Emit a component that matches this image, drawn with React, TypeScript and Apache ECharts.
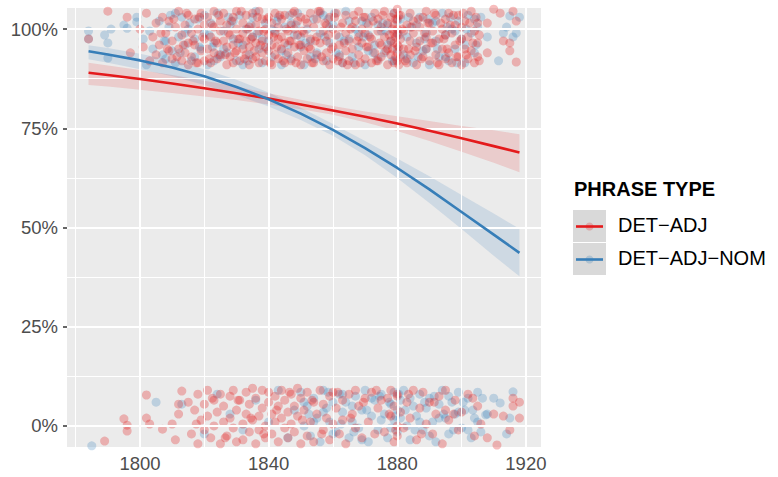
import React, { useEffect, useRef } from "react";
import * as echarts from "echarts";

// ---- fitted curves (percent) ----
const fitYears = [1784, 1790, 1800, 1810, 1820, 1830, 1840, 1850, 1860, 1870, 1880, 1890, 1900, 1910, 1918];
const detAdjFit = [89.0, 88.4, 87.4, 86.3, 85.1, 83.8, 82.5, 81.0, 79.5, 77.9, 76.2, 74.4, 72.5, 70.5, 68.9];
const detAdjLower = [85.9, 85.5, 84.7, 83.9, 83.0, 82.1, 81.0, 79.8, 78.4, 76.5, 74.3, 71.8, 69.1, 66.3, 63.9];
const detAdjUpper = [91.5, 90.8, 89.7, 88.4, 87.0, 85.5, 83.8, 82.2, 80.6, 79.2, 78.0, 76.8, 75.6, 74.5, 73.5];
const detAdjNomFit = [94.4, 93.6, 92.1, 90.3, 88.1, 85.4, 82.3, 78.7, 74.6, 70.0, 65.0, 59.6, 53.9, 48.2, 43.6];
const detAdjNomLower = [92.4, 91.5, 89.9, 88.1, 85.9, 83.4, 80.5, 77.1, 73.1, 68.2, 62.5, 56.2, 49.6, 42.9, 37.7];
const detAdjNomUpper = [95.9, 95.2, 93.8, 92.1, 89.9, 87.2, 84.0, 80.2, 76.1, 71.8, 67.4, 62.9, 58.2, 53.5, 49.7];

// ---- jittered observations [year, percent] ----
const detAdjTop = [
  [1784,97.5],[1790,104.5],[1796,103],[1797,94],
  [1800,100],[1801,95.5],[1802,104],[1803,92],[1804,98],[1805,101.5],[1805,93.5],
  [1806,96],[1807,103],[1807,91.5],[1808,99],[1809,94.5],[1809,102],[1810,97],[1810,92.5],
  [1811,100.5],[1812,95],[1812,104.5],[1813,92],[1813,98.5],[1814,101],[1814,94],[1815,96.5],[1815,103.5],[1815,91],
  [1816,99],[1816,93],[1817,102.5],[1817,96],[1818,91.5],[1818,100],[1819,94.5],[1819,104],[1820,97.5],[1820,92],[1820,101],
  [1821,95],[1821,103],[1822,98],[1822,91.5],[1823,100.5],[1823,94],[1823,104.5],[1824,96.5],[1824,92.5],[1825,99.5],[1825,102],[1825,93.5],
  [1826,97],[1826,104],[1827,91],[1827,95.5],[1827,101],[1828,98.5],[1828,93],[1829,103],[1829,96],[1829,91.5],[1830,100],[1830,94.5],[1830,104.5],
  [1831,97.5],[1831,92],[1832,101.5],[1832,95],[1832,99],[1833,103.5],[1833,93.5],[1833,97],[1834,91],[1834,100.5],[1834,95.5],[1835,104],[1835,98],[1835,92.5],
  [1836,96.5],[1836,101],[1836,93],[1837,99.5],[1837,104.5],[1837,91.5],[1838,97],[1838,94],[1838,102.5],[1839,95.5],[1839,100],[1839,92],[1840,98.5],[1840,103],[1840,94.5],
  [1841,96],[1841,101.5],[1841,91],[1842,99],[1842,93.5],[1842,104],[1843,97.5],[1843,92.5],[1843,100.5],[1844,95],[1844,102.5],[1844,98],[1845,91.5],[1845,96.5],[1845,103.5],
  [1846,99.5],[1846,94],[1847,101],[1847,92],[1847,97],[1848,104.5],[1848,95.5],[1848,100],[1849,93],[1849,98.5],[1849,102],[1850,91],[1850,96],[1850,103],
  [1851,99],[1851,94.5],[1852,101.5],[1852,92.5],[1853,97.5],[1853,104],[1853,95],[1854,100.5],[1854,91.5],[1855,98],[1855,93.5],[1855,102.5],
  [1856,96.5],[1856,104.5],[1857,92],[1857,99.5],[1858,94],[1858,101],[1858,97],[1859,91],[1859,103],[1860,95.5],[1860,100],[1860,92.5],
  [1861,98.5],[1861,104],[1862,93],[1862,96],[1863,101.5],[1863,91.5],[1864,99],[1864,94.5],[1864,103.5],[1865,97],[1865,92],
  [1866,100.5],[1866,95],[1867,102],[1867,91],[1868,98],[1868,93.5],[1868,104.5],[1869,96.5],[1869,100],[1870,92.5],[1870,99],[1870,103],
  [1871,95.5],[1871,101],[1872,91.5],[1872,97.5],[1873,104],[1873,94],[1874,99.5],[1874,92],[1874,102.5],[1875,96],[1875,100.5],[1875,93],
  [1876,98],[1876,104.5],[1877,91],[1877,95],[1877,101.5],[1878,97],[1878,103],[1878,93.5],[1879,99],[1879,91.5],[1879,96.5],[1879,104],[1879,101],
  [1880,94],[1880,98.5],[1880,92],[1880,102.5],[1880,96],[1880,100],[1880,105],[1881,93],[1881,97.5],[1881,103.5],
  [1882,99.5],[1882,95],[1883,101],[1883,91.5],[1884,97],[1884,104],[1884,93.5],[1885,99],[1885,102],
  [1886,95.5],[1886,91],[1887,100.5],[1887,97],[1888,103],[1888,93],[1889,98],[1889,104.5],[1889,95],[1890,92],[1890,101.5],
  [1891,96.5],[1891,99.5],[1892,93.5],[1892,103.5],[1893,91],[1893,97.5],[1894,100],[1894,95],[1895,102.5],[1895,92.5],[1895,98.5],
  [1896,94],[1896,104],[1897,99],[1897,91.5],[1898,96],[1898,101],[1899,93],[1899,103.5],[1900,97.5],[1900,91],[1900,100.5],
  [1901,95],[1901,102],[1902,92.5],[1902,98],[1903,104.5],[1903,94.5],[1904,99.5],[1904,91.5],[1905,96.5],[1905,101.5],[1905,93],
  [1908,101.5],[1908,94],[1910,105],[1912,104],[1913,97],[1915,96.5],[1915,94.5],[1916,104.5],[1917,91.7],[1917,102],
];
const detAdjTopMore = [
  [1806.5,99],[1808.5,95],[1810.5,102.5],[1811.5,93],[1813.5,96],[1814.5,104],[1816.5,97],[1817.5,91.5],[1818.5,103],[1819.5,98],
  [1821.5,92.5],[1822.5,101],[1823.5,97],[1824.5,103.5],[1826.5,93.5],[1827.5,99],[1828.5,102],[1829.5,94],[1830.5,97.5],[1831.5,104.5],
  [1832.5,92.5],[1833.5,100],[1834.5,97.5],[1835.5,94.5],[1836.5,103],[1837.5,96],[1838.5,99.5],[1839.5,102.5],[1840.5,91.5],[1841.5,98],
  [1842.5,95.5],[1843.5,103.5],[1844.5,92],[1845.5,100],[1846.5,97],[1847.5,104],[1848.5,91.5],[1849.5,96],[1850.5,99.5],[1851.5,102.5],
  [1852.5,95.5],[1853.5,91.5],[1854.5,97],[1855.5,104.5],[1856.5,93],[1857.5,101.5],[1858.5,98.5],[1859.5,95],[1860.5,103],[1861.5,92],
  [1862.5,100.5],[1863.5,96.5],[1864.5,91],[1865.5,100],[1866.5,103.5],[1867.5,97],[1868.5,91.5],[1869.5,103],[1870.5,95.5],[1871.5,98],
  [1872.5,102],[1873.5,92],[1874.5,96.5],[1875.5,103.5],[1876.5,94.5],[1877.5,98.5],[1878.5,100],[1878.5,95],[1879.5,93],[1879.5,98],
  [1880.5,103.5],[1880.5,95.5],[1880.5,91],[1879.5,102.5],[1881.5,100],[1882.5,92],[1883.5,95],[1884.5,100.5],[1885.5,94.5],[1886.5,102.5],
  [1887.5,92.5],[1888.5,99],[1889.5,101.5],[1890.5,96.5],[1891.5,104],[1892.5,91.5],[1893.5,101.5],[1894.5,97.5],[1895.5,95],[1896.5,101],
  [1897.5,103.5],[1898.5,93],[1899.5,97],[1900.5,104],[1901.5,93.5],[1902.5,101.5],[1903.5,96.5],[1904.5,103],[1905.5,98.5],[1905.5,92],
];
const detAdjBottom = [
  [1789,-3.8],[1795,1.8],[1796,0.2],[1796,-1.3],[1802,7.8],[1802,2],[1803,0.5],[1807,-0.8],[1810,0.5],[1811,-3.5],[1812,3],[1813,8.8],[1812,5.5],
  [1815,6],[1816,-2],[1817,4],[1818,8],[1818,-4.5],[1819,1.5],[1820,5.5],[1820,-1],
  [1821,9],[1821,2.5],[1822,-3],[1823,6.5],[1823,0],[1824,3.5],[1825,-4.5],[1825,8],
  [1826,1],[1826,5],[1827,-2.5],[1828,7.5],[1828,2],[1829,-0.5],[1829,9],[1830,4],[1830,-4],
  [1831,6.5],[1832,0.5],[1832,-3.5],[1833,8.5],[1833,3],[1834,-1.5],[1834,5.5],[1835,1.5],[1835,9.5],
  [1836,-4.5],[1836,7],[1837,2.5],[1837,-1],[1838,9],[1838,4.5],[1839,0],[1839,-3],[1840,6],[1840,8.5],
  [1841,3],[1841,-2],[1842,7.5],[1842,1],[1843,-4],[1843,5],[1844,9],[1844,2],[1845,-0.5],[1845,6.5],
  [1846,3.5],[1846,-3],[1847,8],[1847,0.5],[1848,5],[1848,-1.5],[1849,9.5],[1849,2.5],[1850,-4.5],[1850,7],
  [1851,4],[1852,-2.5],[1852,8.5],[1853,1],[1854,6],[1854,-4],[1855,3],
  [1856,9],[1857,-1],[1857,5.5],[1858,2],[1859,7.5],[1859,-3.5],[1860,8.5],[1860,0.5],
  [1861,4.5],[1862,-2],[1863,6.5],[1863,1.5],[1864,-4.5],[1865,8],
  [1866,3],[1867,-0.5],[1867,9],[1868,5],[1869,-3],[1870,7],
  [1871,1],[1872,8.5],[1873,-2],[1874,4.5],[1875,6.5],
  [1876,-1.5],[1877,7],[1878,2.5],[1878,9],[1879,-4],[1879,5],[1880,7.5],[1880,0],[1880,-2.5],[1880,8],[1881,3.5],
  [1882,-0.5],[1883,6],[1884,2],[1885,9],[1886,-3.5],[1887,4.5],[1888,8.5],[1889,0.5],[1890,6],
  [1891,-2],[1892,3],[1893,7.5],[1894,-4.5],[1895,9],[1895,4],[1896,1.5],[1898,6.5],[1899,-1],[1900,3.5],
  [1902,8],[1904,-2.5],[1905,5],[1906,0.5],[1908,-3],[1910,3],[1911,-4.8],[1913,2.5],[1915,-1],[1916,7],[1916,5],[1918,6],[1918,2],
  [1817.5,0.5],[1822.5,7],[1826.5,-3],[1830.5,6.5],[1834.5,2],[1838.5,-2],[1842.5,4],[1846.5,8.5],[1850.5,1.5],[1853.5,6.5],
  [1856.5,-2],[1861.5,8.5],[1865.5,2],[1869.5,6],[1873.5,9],[1877.5,3],[1879.5,-1],[1883.5,8],[1887.5,-2],[1891.5,6],[1897.5,3],[1903.5,7],
];
const detAdjNomTop = [
  [1784,99.5],[1784,97.5],[1789,98.5],[1790,96.5],[1790,92.7],[1791,100],[1795,101],[1796,100.2],[1799,101.8],[1799,103],
  [1801,97.5],[1802,91],[1803,99.5],[1804,95],
  [1806,102],[1807,93.5],[1808,97],[1809,100.5],[1810,94.5],[1811,91.5],[1812,98],[1813,103],[1814,96],[1815,100],
  [1816,92],[1817,97.5],[1818,102.5],[1819,95],[1820,99],[1821,91],[1822,101.5],[1823,96.5],[1824,104],[1825,93],
  [1826,99.5],[1827,94],[1828,101],[1829,97.5],[1830,92],[1831,103.5],[1832,96],[1833,100],[1834,93.5],[1835,98],
  [1836,104.5],[1837,95],[1838,91.5],[1839,101.5],[1840,97],[1841,93],[1842,99.5],[1843,103],[1844,94.5],[1845,100.5],
  [1846,96],[1847,92.5],[1848,98.5],[1849,104],[1850,95.5],[1851,91],[1852,100],[1853,97],[1854,102.5],[1855,94],
  [1856,99],[1857,103.5],[1858,92],[1859,96.5],[1860,101],[1861,94],[1862,98],[1863,91.5],[1864,104.5],[1865,97.5],
  [1866,93],[1867,100],[1868,95.5],[1869,102],[1870,91],[1871,98.5],[1872,103],[1873,96],[1874,92.5],[1875,99.5],
  [1876,94],[1877,101],[1878,97],[1879,92],[1879,104],[1880,99],[1880,95],[1881,102.5],[1882,93.5],[1883,98],[1884,100.5],[1885,91.5],
  [1886,96.5],[1887,103],[1888,94.5],[1889,99],[1890,91],[1891,101.5],[1892,97],[1893,93],[1894,104],[1895,98.5],
  [1896,92],[1897,100],[1898,95],[1899,102],[1900,97.5],[1901,91.5],[1902,103.5],[1903,99],[1904,94],[1905,100.5],[1906,103],
  [1808,92.5],[1811,104],[1814,99],[1817,93],[1820,103.5],[1823,92],[1826,95],[1829,102],[1832,91],[1835,103],
  [1838,97.5],[1841,100],[1844,91],[1847,101.5],[1850,98],[1853,93],[1856,104],[1859,100.5],[1862,93.5],[1865,102],
  [1868,99],[1871,94.5],[1874,101],[1877,96],[1880,102],[1883,92.5],[1886,101],[1889,95],[1892,102],[1895,93],
  [1898,99.5],[1901,96],[1904,102.5],
  [1908,98],[1911.5,92],[1913,99],[1914,100.5],[1916,98],[1917,99],[1915,103.3],[1918,103],
  [1807.5,97],[1809.5,103.5],[1812.5,94],[1815.5,101.5],[1818.5,95.5],[1821.5,98.5],[1824.5,93.5],[1827.5,103],[1830.5,96.5],[1833.5,92],
  [1836.5,99],[1839.5,95],[1842.5,102],[1845.5,93.5],[1848.5,101],[1851.5,96.5],[1854.5,92.5],[1857.5,98],[1860.5,104],[1863.5,97],
  [1866.5,91.5],[1869.5,98],[1872.5,94],[1875.5,101.5],[1878.5,92],[1880.5,98.5],[1883.5,103],[1886.5,93],[1889.5,102.5],[1892.5,95],
  [1895.5,100.5],[1898.5,91.5],[1901.5,100],[1904.5,96],[1846.5,103.5],[1858.5,102.5],[1870.5,101.5],[1876.5,99.5],[1888.5,97.5],[1896.5,103],
  [1834.5,101],[1822.5,95.5],
];
const detAdjNomBottom = [
  [1785,-5],[1805,6],[1813,5.5],[1820,-2],[1824,8],[1828,3],[1832,-1],[1836,6.5],[1840,1],[1843,9],[1846,-3],[1848,4],
  [1850,8.5],[1851,0],[1852,5],[1853,-2.5],[1854,7],[1855,2],[1856,-4],[1857,9],[1858,4.5],[1859,1],[1860,6],
  [1861,-1.5],[1862,8],[1863,3.5],[1864,6],[1865,-3],[1866,1],[1867,7.5],[1868,-0.5],[1869,4],[1870,9],
  [1871,-4],[1872,2.5],[1873,6.5],[1874,-1],[1875,8],[1876,3],[1877,-3],[1878,5.5],[1879,1.5],[1879,8.5],[1880,-1.5],[1880,4],[1881,6.5],
  [1882,9],[1883,0],[1884,-3.5],[1885,5],[1886,2.5],[1887,8],[1888,-1],[1889,4.5],[1890,7],
  [1891,1],[1892,-4],[1893,5.5],[1894,9],[1895,2],[1896,-2],[1897,6],[1898,3],[1899,8.5],[1900,-0.5],
  [1901,4],[1902,7],[1903,-3],[1904,2],[1905,8.5],[1906,-1.5],[1907.5,2.8],[1908,3],[1910,7],[1912,5.8],[1914,-2],[1915,2],[1916,8.6],
  [1851,6],[1854,1],[1857,3.5],[1860,-2],[1863,8],[1866,5],[1869,-3.5],[1872,7],[1875,1.5],[1878,-0.5],
  [1881,2],[1884,7],[1887,1],[1890,-2.5],[1893,2],[1896,7.5],[1899,3.5],[1902,-1],[1905,1],
  [1852.5,3],[1858.5,8.5],[1862.5,0.5],[1866.5,-1.5],[1870.5,4],[1874.5,7.5],[1877.5,6],[1879.5,2.5],[1880.5,8],[1882.5,4],
  [1885.5,-1],[1888.5,6],[1891.5,7.5],[1894.5,3],[1897.5,-1],[1900.5,6],[1903.5,4],[1906.5,7],
];

// ---- axis ticks ----
const xMajor = [1800, 1840, 1880, 1920];
const xMinor = [1780, 1820, 1860, 1900];
const yMajor = [0, 25, 50, 75, 100];
const yMinor = [12.5, 37.5, 62.5, 87.5];

const seriesNames = ["DET−ADJ", "DET−ADJ−NOM"];
const RED = "#E41A1C";
const BLUE = "#377EB8";
const FONT = "'Liberation Sans', Arial, Helvetica, sans-serif";

const bandSeries = (upper: number[], lower: number[], fill: string) => ({
  type: "custom",
  silent: true,
  z: 4,
  clip: true,
  data: [[fitYears[0], upper[0]]],
  renderItem: (params: any, api: any) => {
    if (params.dataIndex !== 0) return null;
    const pts: number[][] = [];
    for (let i = 0; i < fitYears.length; i++) pts.push(api.coord([fitYears[i], upper[i]]));
    for (let i = fitYears.length - 1; i >= 0; i--) pts.push(api.coord([fitYears[i], lower[i]]));
    return { type: "polygon", shape: { points: pts }, style: { fill } };
  },
});

const fitSeries = (name: string, vals: number[], color: string) => ({
  name,
  type: "line",
  z: 5,
  silent: true,
  showSymbol: false,
  smooth: false,
  data: fitYears.map((y, i) => [y, vals[i]]),
  lineStyle: { color, width: 2.6 },
});

export default function App() {
  const ref = useRef<HTMLDivElement>(null);
  useEffect(() => {
    const chart = echarts.init(ref.current!, null, { renderer: "svg" });
    const gridLines = [
      ...xMajor.map((v) => ({ xAxis: v, lineStyle: { width: 2 } })),
      ...xMinor.map((v) => ({ xAxis: v, lineStyle: { width: 1 } })),
      ...yMajor.map((v) => ({ yAxis: v, lineStyle: { width: 2 } })),
      ...yMinor.map((v) => ({ yAxis: v, lineStyle: { width: 1 } })),
    ];
    const option: any = {
      animation: false,
      backgroundColor: "#FFFFFF",
      textStyle: { fontFamily: FONT },
      grid: {
        left: 67, top: 8, width: 474, height: 439,
        show: true, backgroundColor: "#EBEBEB", borderWidth: 0,
      },
      xAxis: {
        type: "value", min: 1777.3, max: 1924.7,
        splitLine: { show: false },
        axisLine: { show: false },
        axisTick: { show: true, customValues: xMajor, length: 4, lineStyle: { color: "#333333", width: 1.5 } },
        axisLabel: {
          customValues: xMajor, color: "#4D4D4D", fontSize: 18.5, margin: 7, fontFamily: FONT,
          formatter: (v: number) => String(v),
        },
      },
      yAxis: {
        type: "value", min: -5.3, max: 105.3,
        splitLine: { show: false },
        axisLine: { show: false },
        axisTick: { show: true, customValues: yMajor, length: 4, lineStyle: { color: "#333333", width: 1.5 } },
        axisLabel: {
          customValues: yMajor, color: "#4D4D4D", fontSize: 18.5, margin: 9, fontFamily: FONT,
          formatter: (v: number) => `${v}%`,
        },
      },
      series: [
        {
          type: "line", data: [], z: 1, silent: true,
          markLine: {
            silent: true, symbol: ["none", "none"], label: { show: false },
            lineStyle: { color: "#FFFFFF", type: "solid" },
            emphasis: { disabled: true },
            data: gridLines,
          },
        },
        {
          name: seriesNames[1], type: "scatter", z: 2, silent: true, symbolSize: 9,
          data: [...detAdjNomTop, ...detAdjNomBottom],
          itemStyle: { color: BLUE, opacity: 0.26 },
        },
        {
          name: seriesNames[0], type: "scatter", z: 2, silent: true, symbolSize: 9,
          data: [...detAdjTop, ...detAdjTopMore, ...detAdjBottom],
          itemStyle: { color: RED, opacity: 0.29 },
        },
        bandSeries(detAdjUpper, detAdjLower, "rgba(228,26,28,0.15)"),
        bandSeries(detAdjNomUpper, detAdjNomLower, "rgba(55,126,184,0.16)"),
        fitSeries(seriesNames[0], detAdjFit, RED),
        fitSeries(seriesNames[1], detAdjNomFit, BLUE),
      ],
      graphic: [
        { type: "text", left: 574, top: 179, style: { text: "PHRASE TYPE", font: `bold 20px ${FONT}`, fill: "#000000" } },
        { type: "rect", shape: { x: 573, y: 210, width: 33, height: 32 }, style: { fill: "#D9D9D9" } },
        { type: "rect", shape: { x: 573, y: 243, width: 33, height: 32 }, style: { fill: "#D9D9D9" } },
        { type: "circle", shape: { cx: 589.5, cy: 226.5, r: 4 }, style: { fill: "rgba(228,26,28,0.25)" } },
        { type: "circle", shape: { cx: 589.5, cy: 259.5, r: 4 }, style: { fill: "rgba(55,126,184,0.25)" } },
        { type: "line", shape: { x1: 576, y1: 226.5, x2: 603, y2: 226.5 }, style: { stroke: RED, lineWidth: 2.6 } },
        { type: "line", shape: { x1: 576, y1: 259.5, x2: 603, y2: 259.5 }, style: { stroke: BLUE, lineWidth: 2.6 } },
        { type: "text", left: 618, top: 215, style: { text: seriesNames[0], font: `20px ${FONT}`, fill: "#000000" } },
        { type: "text", left: 618, top: 248, style: { text: seriesNames[1], font: `20px ${FONT}`, fill: "#000000" } },
      ],
    };
    chart.setOption(option);
    return () => chart.dispose();
  }, []);
  return (
    <div
      ref={ref}
      style={{ position: "absolute", left: 0, top: 0, width: 778, height: 477, background: "#FFFFFF" }}
    />
  );
}
